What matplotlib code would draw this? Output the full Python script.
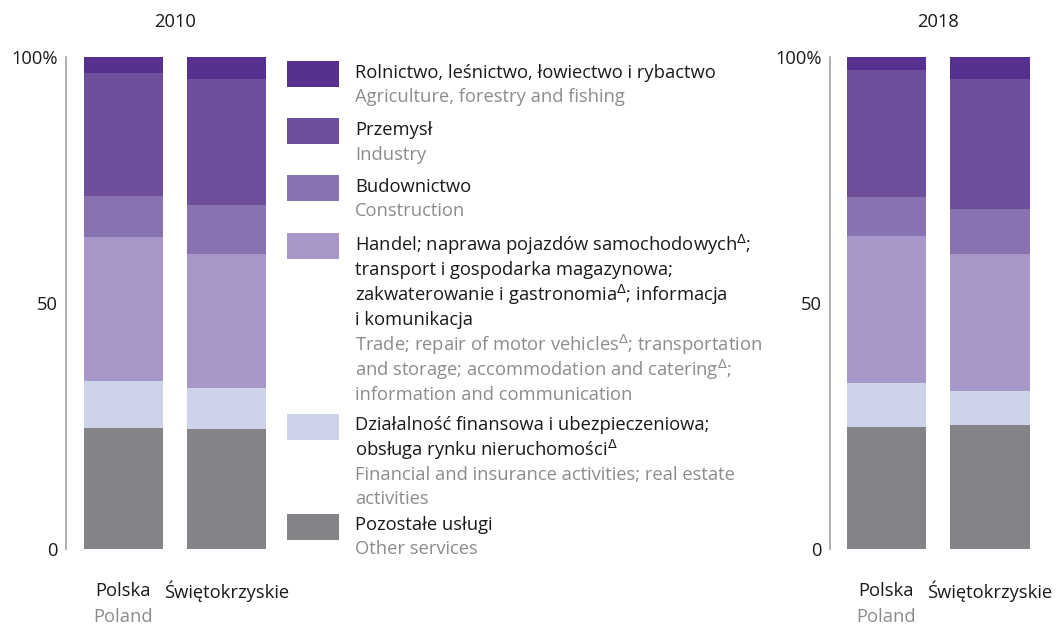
import matplotlib
matplotlib.use("Agg")
import matplotlib.pyplot as plt
import matplotlib.transforms as mtransforms
from matplotlib.patches import Rectangle

plt.rcParams['font.family'] = ['Open Sans', 'DejaVu Sans']
plt.rcParams['mathtext.fontset'] = 'dejavusans'

# ---- data ----
regions_pl = ['Polska', 'Świętokrzyskie']
regions_en = ['Poland', '']
years = ['2010', '2018']

# shares in %, stacked bottom to top
other_2010 = [24.6, 24.4]
finance_2010 = [9.5, 8.4]
trade_2010 = [29.4, 27.2]
construction_2010 = [8.3, 10.0]
industry_2010 = [25.0, 25.5]
agriculture_2010 = [3.2, 4.5]

other_2018 = [24.8, 25.2]
finance_2018 = [8.9, 6.9]
trade_2018 = [29.9, 27.9]
construction_2018 = [8.0, 9.1]
industry_2018 = [25.8, 26.4]
agriculture_2018 = [2.6, 4.5]

yticks = [0, 50, 100]
ytick_labels = ['0', '50', '100%']

colors = {
    'agri': '#55308f',
    'industry': '#6d4f9c',
    'construction': '#8872b0',
    'trade': '#a897c9',
    'finance': '#cdd3e8',
    'other': '#838388',
}

legend_pl = [
    ['Rolnictwo, leśnictwo, łowiectwo i rybactwo'],
    ['Przemysł'],
    ['Budownictwo'],
    [r'Handel; naprawa pojazdów samochodowych$^{\Delta}$;',
     'transport i gospodarka magazynowa;',
     r'zakwaterowanie i gastronomia$^{\Delta}$; informacja',
     'i komunikacja'],
    ['Działalność finansowa i ubezpieczeniowa;',
     r'obsługa rynku nieruchomości$^{\Delta}$'],
    ['Pozostałe usługi'],
]
legend_en = [
    ['Agriculture, forestry and fishing'],
    ['Industry'],
    ['Construction'],
    [r'Trade; repair of motor vehicles$^{\Delta}$; transportation',
     r'and storage; accommodation and catering$^{\Delta}$;',
     'information and communication'],
    ['Financial and insurance activities; real estate',
     'activities'],
    ['Other services'],
]
legend_colors = [colors['agri'], colors['industry'], colors['construction'],
                 colors['trade'], colors['finance'], colors['other']]

W, H = 1060, 626
fig = plt.figure(figsize=(W / 100, H / 100), dpi=100)

def fy(y):
    return 1 - y / H

def fx(x):
    return x / W

TXT = '#1a1a1a'
GREY = '#8c8c8c'
FS = 13.2

def draw_panel(left_px, width_px, xlim, series, year):
    ax = fig.add_axes([fx(left_px), fy(549), fx(width_px), (549 - 57) / H])
    x = [0, 1]
    bottom = [0, 0]
    keys = ['other', 'finance', 'trade', 'construction', 'industry', 'agri']
    for k, vals in zip(keys, series):
        ax.bar(x, vals, width=0.77, bottom=bottom, color=colors[k], linewidth=0)
        bottom = [b + v for b, v in zip(bottom, vals)]
    ax.set_xlim(*xlim)
    ax.set_ylim(0, 100)
    for s in ['top', 'right', 'bottom']:
        ax.spines[s].set_visible(False)
    ax.spines['left'].set_color('#9a9a9a')
    ax.spines['left'].set_linewidth(1.1)
    ax.set_xticks([])
    ax.set_yticks(yticks)
    ax.set_yticklabels(ytick_labels, fontsize=FS, color=TXT)
    ax.tick_params(axis='y', length=0, pad=6)
    tr = mtransforms.blended_transform_factory(ax.transData, fig.transFigure)
    for i in range(2):
        ax.text(x[i], fy(591), regions_pl[i], transform=tr, ha='center', va='center',
                fontsize=FS, color=TXT)
        if regions_en[i]:
            ax.text(x[i], fy(617), regions_en[i], transform=tr, ha='center', va='center',
                    fontsize=FS, color=GREY)
    ax.text(0.5, fy(22), year, transform=tr, ha='center', va='center', fontsize=FS, color=TXT)
    return ax

draw_panel(66, 212, (-0.558, 1.5),
           [other_2010, finance_2010, trade_2010, construction_2010, industry_2010, agriculture_2010],
           years[0])
draw_panel(830, 222, (-0.546, 1.6),
           [other_2018, finance_2018, trade_2018, construction_2018, industry_2018, agriculture_2018],
           years[1])

# ---- legend ----
patch_tops = [61, 118, 175, 233, 414, 514]
pl_lines_y = [[73], [130], [187], [245, 270, 295, 320], [425, 450], [525]]
en_lines_y = [[97], [155], [211], [345, 370, 395], [475, 499], [549]]
for top, col, pls, ens, pys, eys in zip(patch_tops, legend_colors, legend_pl, legend_en,
                                         pl_lines_y, en_lines_y):
    fig.patches.append(Rectangle((fx(287), fy(top + 26)), fx(52), 26 / H,
                                 transform=fig.transFigure, color=col, linewidth=0))
    for t, y in zip(pls, pys):
        fig.text(fx(355), fy(y), t, ha='left', va='center', fontsize=FS, color=TXT)
    for t, y in zip(ens, eys):
        fig.text(fx(355), fy(y), t, ha='left', va='center', fontsize=FS, color=GREY)

fig.savefig('out.png', dpi=100)
